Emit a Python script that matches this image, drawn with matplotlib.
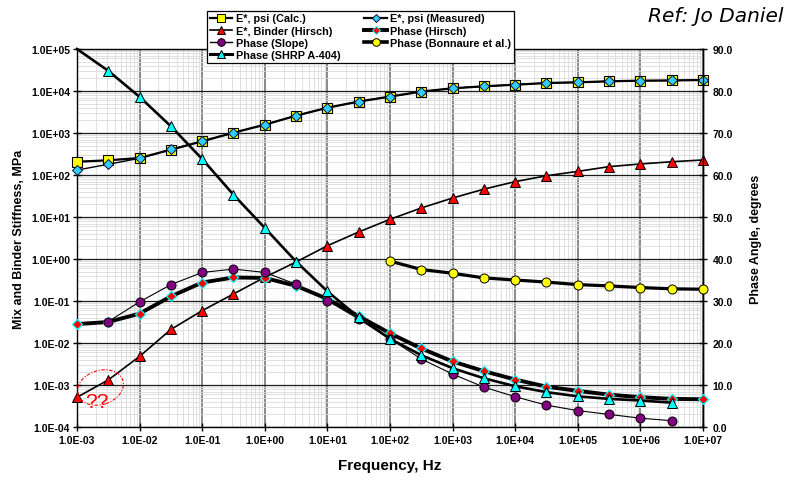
import matplotlib
matplotlib.use("Agg")
import matplotlib.pyplot as plt
from matplotlib.ticker import FuncFormatter, LogLocator, NullFormatter, FixedLocator
from matplotlib.lines import Line2D
from matplotlib.patches import Ellipse

plt.rcParams['font.family'] = ['Liberation Sans', 'DejaVu Sans']
plt.rcParams['font.weight'] = 'bold'

# Frequencies (Hz), half-decade steps
freq = [1e-3, 3.16e-3, 1e-2, 3.16e-2, 1e-1, 3.16e-1, 1e0, 3.16e0, 1e1, 3.16e1,
        1e2, 3.16e2, 1e3, 3.16e3, 1e4, 3.16e4, 1e5, 3.16e5, 1e6, 3.16e6, 1e7]

# Stiffness series (left axis)
e_calc = [207, 224, 254, 400, 634, 1016, 1577, 2583, 4000, 5600, 7360, 9680,
          11600, 12940, 14120, 15500, 16100, 17030, 17600, 17800, 18300]
e_meas = [131, 180, 250, 405, 640, 1016, 1577, 2583, 4000, 5600, 7360, 9680,
          11600, 12940, 14120, 15500, 16100, 17030, 17600, 17800, 18300]
e_binder = [5.1e-4, 1.32e-3, 4.8e-3, 0.021, 0.059, 0.147, 0.367, 0.85, 2.07, 4.4,
            8.8, 16.4, 28.3, 46, 69.6, 96, 122, 158, 183, 207, 228]

# Phase angle series (right axis, degrees)
ph_hirsch = [24.5, 25.0, 27.0, 31.1, 34.4, 35.6, 35.5, 33.6, 30.5, 26.4, 22.3,
             18.7, 15.6, 13.3, 11.3, 9.6, 8.6, 7.7, 7.1, 6.7, 6.6]
freq_slope = freq[1:20]
ph_slope = [25.1, 29.8, 33.9, 36.8, 37.6, 36.8, 34.0, 30.1, 25.7, 21.0, 16.2,
            12.6, 9.5, 7.2, 5.2, 3.9, 3.0, 2.1, 1.5]
freq_bonn = freq[10:]
ph_bonn = [39.5, 37.5, 36.6, 35.5, 35.0, 34.5, 33.9, 33.6, 33.2, 32.9, 32.8]
freq_shrp = freq[:20]
ph_shrp = [90.0, 84.8, 78.6, 71.6, 63.8, 55.3, 47.4, 39.4, 32.3, 26.1, 21.0,
           17.1, 14.0, 11.6, 9.7, 8.3, 7.3, 6.7, 6.3, 5.8]

x_ticks = [1e-3, 1e-2, 1e-1, 1e0, 1e1, 1e2, 1e3, 1e4, 1e5, 1e6, 1e7]
y_ticks = [1e-4, 1e-3, 1e-2, 1e-1, 1e0, 1e1, 1e2, 1e3, 1e4, 1e5]
phase_ticks = [0, 10, 20, 30, 40, 50, 60, 70, 80, 90]

W, H = 785, 481
fig = plt.figure(figsize=(W / 100, H / 100), dpi=100)
ax = fig.add_axes([77 / W, 1 - 428 / H, 626 / W, 378 / H])

ax.set_xscale('log')
ax.set_yscale('log')
ax.set_xlim(1e-3, 1e7)
ax.set_ylim(1e-4, 1e5)
ax.xaxis.set_major_locator(FixedLocator(x_ticks))
ax.yaxis.set_major_locator(FixedLocator(y_ticks))
ax.xaxis.set_minor_locator(LogLocator(base=10, subs=range(2, 10), numticks=50))
ax.yaxis.set_minor_locator(LogLocator(base=10, subs=range(2, 10), numticks=50))
ax.xaxis.set_minor_formatter(NullFormatter())
ax.yaxis.set_minor_formatter(NullFormatter())
sci = FuncFormatter(lambda v, p: f"{v:.1E}")
ax.xaxis.set_major_formatter(sci)
ax.yaxis.set_major_formatter(sci)

ax.grid(which='minor', axis='both', color='#dadada', lw=0.6, zorder=0)
ax.grid(which='major', axis='x', color='#808080', lw=1.3, zorder=0)
ax.grid(which='major', axis='y', color='#1a1a1a', lw=0.9, zorder=0)
ax.set_axisbelow(True)

ax.tick_params(which='major', direction='inout', length=6, width=1, labelsize=7.5)
ax.tick_params(axis='x', which='major', pad=3)
ax.tick_params(axis='y', which='major', pad=2)
ax.tick_params(which='minor', length=0)
for s in ax.spines.values():
    s.set_color('black')
    s.set_linewidth(1.0)

# Stiffness curves
ax.plot(freq, e_calc, color='black', lw=1.6, marker='s', ms=6.8,
        mfc='#ffff00', mec='black', mew=0.8, clip_on=False, zorder=3)
ax.plot(freq, e_meas, color='black', lw=1.0, marker='D', ms=5.2,
        mfc='#33ccff', mec='#101030', mew=0.7, clip_on=False, zorder=4)
ax.plot(freq, e_binder, color='black', lw=1.2, marker='^', ms=7,
        mfc='#ff0000', mec='black', mew=0.7, clip_on=False, zorder=5)

# Phase angle curves
ax2 = ax.twinx()
ax2.set_ylim(0, 90)
ax2.yaxis.set_major_locator(FixedLocator(phase_ticks))
ax2.yaxis.set_major_formatter(FuncFormatter(lambda v, p: f"{v:.1f}"))
ax2.tick_params(which='major', direction='inout', length=6, width=1,
                labelsize=7.5, pad=4)
for s in ax2.spines.values():
    s.set_visible(False)
ax2.spines['right'].set_visible(True)
ax2.spines['right'].set_linewidth(1.0)

ax2.plot(freq, ph_hirsch, color='black', lw=2.8, marker='D', ms=5.2,
         mfc='#ff0000', mec='#00ffff', mew=0.9, clip_on=False, zorder=3)
ax2.plot(freq_slope, ph_slope, color='black', lw=0.8, marker='o', ms=6.5,
         mfc='#800080', mec='black', mew=0.7, clip_on=False, zorder=4)
ax2.plot(freq_bonn, ph_bonn, color='black', lw=2.3, marker='o', ms=6.5,
         mfc='#ffff00', mec='black', mew=0.7, clip_on=False, zorder=5)
ax2.plot(freq_shrp, ph_shrp, color='black', lw=1.9, marker='^', ms=7,
         mfc='#00ffff', mec='black', mew=0.7, clip_on=False, zorder=6,
         markevery=list(range(1, len(ph_shrp))))

# Axis titles
fig.text(19 / W, 1 - 239 / H, 'Mix and Binder Stiffness, MPa', rotation=90,
         ha='center', va='center', fontsize=9, fontweight='bold')
fig.text(756 / W, 1 - 239 / H, 'Phase Angle, degrees', rotation=90,
         ha='center', va='center', fontsize=9, fontweight='bold')
fig.text(390 / W, 1 - 466 / H, 'Frequency, Hz', ha='center', va='center',
         fontsize=11, fontweight='bold')
fig.text(783 / W, 1 - 16 / H, 'Ref: Jo Daniel', ha='right', va='center',
         fontsize=14.5, fontstyle='italic', fontweight='normal',
         family=['DejaVu Sans'])

# Question mark note near the low-frequency binder values
ell = Ellipse((100.5 / 100, (H - 388.5) / 100), 0.47, 0.34, angle=18,
              transform=fig.dpi_scale_trans, fill=False, edgecolor='#ff0000',
              lw=0.8, linestyle=(0, (3, 1.5, 1, 1.5)), zorder=10)
fig.patches.append(ell)
fig.text(97 / W, 1 - 402 / H, '??', ha='center', va='center', color='#ff0000',
         fontsize=15, fontweight='normal')

# Legend
def h(lw, marker, ms, fc, ec):
    return Line2D([], [], color='black', lw=lw, marker=marker, ms=ms,
                  mfc=fc, mec=ec, mew=0.7)

handles = [
    h(1.6, 's', 5.5, '#ffff00', 'black'),
    h(1.2, '^', 6, '#ff0000', 'black'),
    h(1.0, 'o', 5.5, '#800080', 'black'),
    h(2.2, '^', 6, '#00ffff', 'black'),
    h(1.6, 'D', 4.5, '#33ccff', '#101030'),
    h(2.8, 'D', 4.5, '#ff0000', '#00ffff'),
    h(2.6, 'o', 5.5, '#ffff00', 'black'),
]
labels = ['E*, psi (Calc.)', 'E*, Binder (Hirsch)', 'Phase (Slope)',
          'Phase (SHRP A-404)', 'E*, psi (Measured)', 'Phase (Hirsch)',
          'Phase (Bonnaure et al.)']
leg = fig.legend(handles, labels, ncol=2, loc='upper left',
                 bbox_to_anchor=(207 / W, 1 - 11.7 / H), frameon=True,
                 fancybox=False, framealpha=1, edgecolor='black',
                 prop={'size': 7.8, 'weight': 'bold'}, handlelength=2.1,
                 handletextpad=0.3, labelspacing=0.2, columnspacing=2.2,
                 borderpad=0.25, borderaxespad=0, numpoints=1)
leg.get_frame().set_linewidth(0.9)
leg.set_zorder(20)

fig.savefig('out.png', dpi=100)
